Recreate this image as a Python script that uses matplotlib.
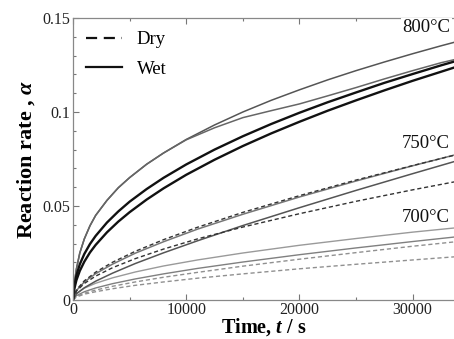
import matplotlib
matplotlib.use("Agg")
import matplotlib.pyplot as plt
from matplotlib.lines import Line2D
from matplotlib.ticker import MultipleLocator, FixedLocator, FuncFormatter

plt.rcParams['font.family'] = ['Liberation Serif', 'DejaVu Serif']
plt.rcParams['mathtext.fontset'] = 'custom'
plt.rcParams['mathtext.it'] = 'Liberation Serif:italic:bold'
plt.rcParams['mathtext.rm'] = 'Liberation Serif:bold'

# time grid for 800 C curves (s)
time_800 = [0, 100, 300, 600, 1000, 1500, 2000, 3000, 4000, 5000, 6500, 8000, 10000,
            12500, 15000, 17500, 20000, 22500, 25000, 27500, 30000, 32500, 34000]
c800_a = [0, 0.008, 0.0165, 0.025, 0.0325, 0.0395, 0.0450, 0.0530, 0.0597, 0.0651, 0.0722, 0.0782, 0.0854,
          0.0931, 0.1000, 0.1062, 0.1118, 0.1171, 0.1220, 0.1266, 0.1310, 0.1352, 0.1376]
c800_b = [0, 0.008, 0.0165, 0.025, 0.0325, 0.0395, 0.0450, 0.0530, 0.0597, 0.0651, 0.0722, 0.0782, 0.0852,
          0.0916, 0.0970, 0.1007, 0.1043, 0.1086, 0.1130, 0.1176, 0.1220, 0.1262, 0.1283]
c800_c = [0, 0.0070, 0.0130, 0.0190, 0.0245, 0.0298, 0.0341, 0.0412, 0.0471, 0.0523, 0.0590, 0.0650, 0.0721,
          0.0800, 0.0871, 0.0936, 0.0996, 0.1052, 0.1104, 0.1155, 0.1202, 0.1248, 0.1274]
c800_d = [0, 0.0055, 0.0105, 0.0155, 0.0204, 0.0253, 0.0293, 0.0360, 0.0417, 0.0467, 0.0534, 0.0594, 0.0666,
          0.0746, 0.0819, 0.0886, 0.0948, 0.1007, 0.1062, 0.1115, 0.1166, 0.1214, 0.1243]

# time grid for 750 C and 700 C curves (s)
time_s = [0, 300, 1000, 2000, 3500, 5500, 8000, 11000, 15000, 20000, 25000, 30000, 34000]
c750_dry1 = [0, 0.0054, 0.0102, 0.0148, 0.0201, 0.0259, 0.0321, 0.0387, 0.0466, 0.0555, 0.0638, 0.0715, 0.0775]
c750_wet1 = [0, 0.0050, 0.0096, 0.0140, 0.0191, 0.0249, 0.0310, 0.0377, 0.0456, 0.0548, 0.0633, 0.0714, 0.0776]
c750_wet2 = [0, 0.0033, 0.0065, 0.0100, 0.0143, 0.0194, 0.0251, 0.0315, 0.0396, 0.0491, 0.0583, 0.0672, 0.0742]
c750_dry2 = [0, 0.0047, 0.0088, 0.0127, 0.0172, 0.0220, 0.0271, 0.0325, 0.0388, 0.0459, 0.0525, 0.0586, 0.0632]
c700_wet1 = [0, 0.0034, 0.0063, 0.0089, 0.0118, 0.0149, 0.0181, 0.0213, 0.0250, 0.0291, 0.0327, 0.0361, 0.0385]
c700_wet2 = [0, 0.0023, 0.0044, 0.0064, 0.0087, 0.0112, 0.0139, 0.0168, 0.0202, 0.0241, 0.0277, 0.0311, 0.0337]
c700_dry1 = [0, 0.0019, 0.0036, 0.0053, 0.0073, 0.0096, 0.0121, 0.0147, 0.0180, 0.0217, 0.0252, 0.0286, 0.0311]
c700_dry2 = [0, 0.0016, 0.0031, 0.0044, 0.0060, 0.0078, 0.0096, 0.0116, 0.0139, 0.0166, 0.0190, 0.0213, 0.0231]

temp_labels = ['800°C', '750°C', '700°C']
temp_label_y = [0.1447, 0.0835, 0.0441]
x_ticks = [0, 10000, 20000, 30000]
y_ticks = [0, 0.05, 0.1, 0.15]
y_tick_labels = ['0', '0.05', '0.1', '0.15']

fig = plt.figure(figsize=(4.54, 3.39), dpi=100)
ax = fig.add_axes([73/454, 1-300/339, 1-73/454, (300-18)/339])

dash = (3, 2)
# 700
ax.plot(time_s, c700_wet1, color='#9a9a9a', lw=1.0)
ax.plot(time_s, c700_wet2, color='#808080', lw=1.0)
ax.plot(time_s, c700_dry1, color='#909090', lw=1.0, ls=(0, dash))
ax.plot(time_s, c700_dry2, color='#909090', lw=1.0, ls=(0, dash))
# 750
ax.plot(time_s, c750_wet1, color='#777777', lw=1.1)
ax.plot(time_s, c750_dry1, color='#333333', lw=1.0, ls=(0, dash))
ax.plot(time_s, c750_wet2, color='#555555', lw=1.1)
ax.plot(time_s, c750_dry2, color='#333333', lw=1.0, ls=(0, dash))
# 800
ax.plot(time_800, c800_a, color='#555555', lw=1.1)
ax.plot(time_800, c800_b, color='#666666', lw=1.1)
ax.plot(time_800, c800_c, color='#111111', lw=1.7)
ax.plot(time_800, c800_d, color='#111111', lw=1.7)

ax.set_xlim(0, 33650)
ax.set_ylim(0, 0.15)

ax.xaxis.set_major_locator(FixedLocator(x_ticks))
ax.xaxis.set_minor_locator(MultipleLocator(5000))
ax.yaxis.set_major_locator(FixedLocator(y_ticks))
ax.yaxis.set_major_formatter(FuncFormatter(
    lambda v, p: y_tick_labels[y_ticks.index(round(v, 3))] if round(v, 3) in y_ticks else ''))
ax.xaxis.set_major_formatter(FuncFormatter(lambda v, p: '%d' % v))
ax.yaxis.set_minor_locator(MultipleLocator(0.01))

ax.tick_params(which='both', direction='in', top=True, right=False, colors='#777777',
               labelcolor='#222222', labelsize=11.5)
ax.tick_params(which='major', length=4, width=0.8)
ax.tick_params(which='minor', length=2.5, width=0.8)
ax.tick_params(axis='x', pad=1.5)
ax.tick_params(axis='y', pad=2)
for s in ['left', 'bottom', 'top']:
    ax.spines[s].set_color('#888888')
    ax.spines[s].set_linewidth(0.9)
ax.spines['right'].set_visible(False)

ax.set_xlabel(r'Time, $t$ / s', fontsize=14.5, fontweight='bold', labelpad=-1.5)
ax.set_ylabel(r'Reaction rate , $\alpha$', fontsize=16, fontweight='bold', labelpad=4)

for lab, yv in zip(temp_labels, temp_label_y):
    ax.text(0.99, yv, lab, transform=ax.get_yaxis_transform(), ha='right', va='center',
            fontsize=13.5, color='#111111',
            bbox=dict(facecolor='white', edgecolor='none', pad=1))

handles = [Line2D([], [], color='#111111', lw=1.6, ls=(0, (5, 3))),
           Line2D([], [], color='#111111', lw=1.6)]
ax.legend(handles, ['Dry', 'Wet'], loc='upper left', bbox_to_anchor=(0.0, 1.0),
          frameon=False, fontsize=13.5, handlelength=1.9, labelspacing=0.65,
          handletextpad=0.8, borderaxespad=0.3)

fig.savefig('out.png', dpi=100)
